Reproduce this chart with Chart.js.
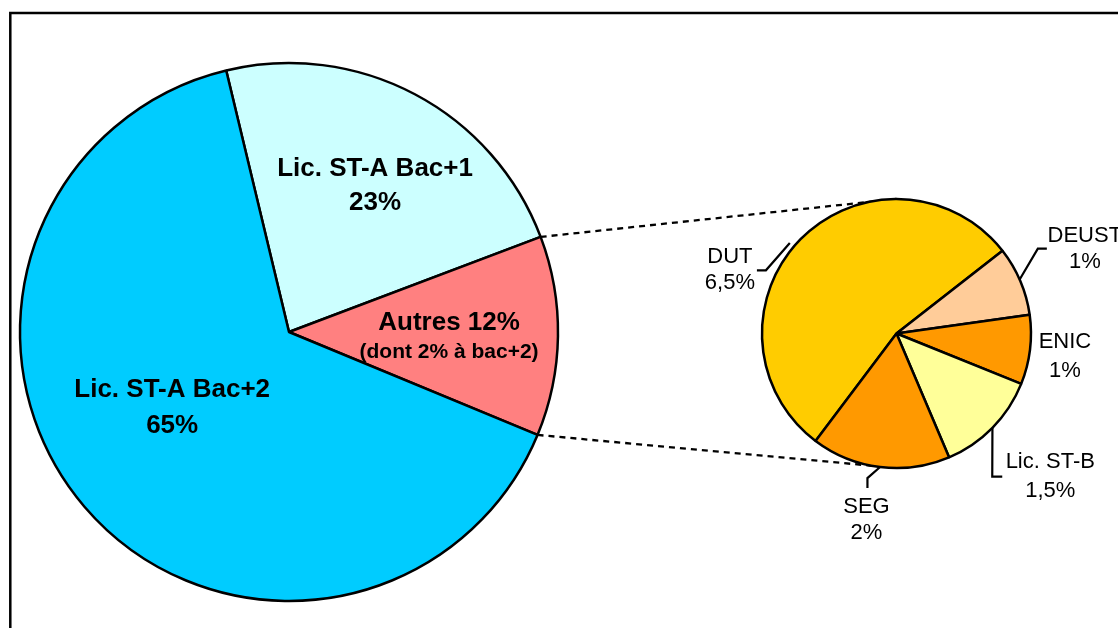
<!DOCTYPE html>
<html><head><meta charset="utf-8">
<script src="https://cdn.jsdelivr.net/npm/chart.js@4"></script>
<style>
html,body{margin:0;padding:0;background:#fff;overflow:hidden}
#wrap{position:relative;width:1118px;height:628px}
canvas{position:absolute;left:0;top:0}
#c2{pointer-events:none}
</style></head><body>
<div id="wrap"><canvas id="c1" width="1118" height="628"></canvas><canvas id="c2" width="1118" height="628"></canvas></div>
<script>
// ---- data ----
const mainCategories = ['Lic. ST-A Bac+1', 'Autres', 'Lic. ST-A Bac+2'];
const mainValues = [23, 12, 65];
const mainColors = ['#CCFFFF', '#FF8080', '#00CCFF'];
const mainTexts = [['Lic. ST-A Bac+1', '23%'], ['Autres 12%', '(dont 2% à bac+2)'], ['Lic. ST-A Bac+2', '65%']];

const subCategories = ['DUT', 'DEUST', 'ENIC', 'Lic. ST-B', 'SEG'];
const subValues = [6.5, 1, 1, 1.5, 2];
const subValueTexts = ['6,5%', '1%', '1%', '1,5%', '2%'];
const subColors = ['#FFCC00', '#FFCC99', '#FF9900', '#FFFF99', '#FF9900'];

// ---- label placement styles ----
const FONT = '"Liberation Sans", Arial, sans-serif';
const mainLabelStyle = [
  {rf: 0.662, shift: 1.0, sizes: [26, 26], gap: 34},
  {rf: 0.595, shift: -1.6, sizes: [26, 21], gap: 28},
  {rf: 0.497, shift: 11.4, sizes: [26, 26], gap: 36}
];
const subLabelStyle = [
  {rf: 1.344, shift: -21.65, gap: 26, leader: {a: -4.2, r: 1.04, elbow: [36, 7], end: [27, 7]}},
  {rf: 1.558, shift: -3.0, gap: 26, leader: {a: -0.7, r: 1.0, elbow: [-47, 7], end: [-38, 7]}},
  {rf: 1.257, shift: -2.2, gap: 29, leader: null},
  {rf: 1.517, shift: -3.4, gap: 29, leader: {a: 0, r: 1.0, elbow: [-58, 9], end: [-48, 9]}},
  {rf: 1.354, shift: 2.5, gap: 26, leader: {a: 0, r: 1.0, elbow: [1, -35], end: [1, -25]}}
];
const D2R = Math.PI / 180;

const framePlugin = {
  id: 'frame',
  beforeDraw(chart) {
    const ctx = chart.ctx;
    ctx.save();
    ctx.fillStyle = '#fff';
    ctx.fillRect(0, 0, chart.width, chart.height);
    ctx.strokeStyle = '#000';
    ctx.lineWidth = 2.5;
    ctx.strokeRect(10.3, 13, 1300, 800);
    ctx.restore();
  }
};

const mainLabelPlugin = {
  id: 'mainLabels',
  afterDatasetsDraw(chart) {
    const ctx = chart.ctx;
    const meta = chart.getDatasetMeta(0);
    ctx.save();
    ctx.fillStyle = '#000';
    ctx.textAlign = 'center';
    ctx.textBaseline = 'alphabetic';
    meta.data.forEach((arc, i) => {
      const st = mainLabelStyle[i];
      const mid = (arc.startAngle + arc.endAngle) / 2 + st.shift * D2R;
      const r = arc.outerRadius * st.rf;
      const x = arc.x + r * Math.cos(mid);
      const y = arc.y + r * Math.sin(mid);
      mainTexts[i].forEach((t, k) => {
        ctx.font = 'bold ' + st.sizes[k] + 'px ' + FONT;
        ctx.fillText(t, x, y + k * st.gap);
      });
    });
    ctx.restore();
  }
};

let mainChart = null;

const connectorPlugin = {
  id: 'connector',
  beforeDatasetsDraw(chart) {
    if (!mainChart) return;
    const arc = mainChart.getDatasetMeta(0).data[1];
    const sub = chart.getDatasetMeta(0).data[0];
    const R = arc.outerRadius;
    const p1 = [arc.x + R * Math.cos(arc.startAngle), arc.y + R * Math.sin(arc.startAngle)];
    const p2 = [arc.x + R * Math.cos(arc.endAngle), arc.y + R * Math.sin(arc.endAngle)];
    const ctx = chart.ctx;
    ctx.save();
    ctx.strokeStyle = '#000';
    ctx.lineWidth = 2.3;
    ctx.setLineDash([6, 5]);
    ctx.beginPath();
    ctx.moveTo(p1[0], p1[1]);
    ctx.lineTo(sub.x, sub.y - sub.outerRadius);
    ctx.moveTo(p2[0], p2[1]);
    ctx.lineTo(sub.x, sub.y + sub.outerRadius);
    ctx.stroke();
    ctx.restore();
  }
};

const subLabelPlugin = {
  id: 'subLabels',
  afterDatasetsDraw(chart) {
    const ctx = chart.ctx;
    const meta = chart.getDatasetMeta(0);
    ctx.save();
    ctx.fillStyle = '#000';
    ctx.strokeStyle = '#000';
    ctx.lineWidth = 2.2;
    ctx.textAlign = 'center';
    ctx.textBaseline = 'alphabetic';
    ctx.font = '22px ' + FONT;
    meta.data.forEach((arc, i) => {
      const st = subLabelStyle[i];
      const midRaw = (arc.startAngle + arc.endAngle) / 2;
      const mid = midRaw + st.shift * D2R;
      const r = arc.outerRadius * st.rf;
      const x = arc.x + r * Math.cos(mid);
      const y = arc.y + r * Math.sin(mid);
      ctx.fillText(subCategories[i], x, y);
      ctx.fillText(subValueTexts[i], x, y + st.gap);
      if (st.leader) {
        const L = st.leader;
        const a = midRaw + L.a * D2R;
        const sx = arc.x + arc.outerRadius * L.r * Math.cos(a);
        const sy = arc.y + arc.outerRadius * L.r * Math.sin(a);
        ctx.beginPath();
        ctx.moveTo(sx, sy);
        ctx.lineTo(x + L.elbow[0], y + L.elbow[1]);
        ctx.lineTo(x + L.end[0], y + L.end[1]);
        ctx.stroke();
      }
    });
    ctx.restore();
  }
};

mainChart = new Chart(document.getElementById('c1'), {
  type: 'pie',
  data: {
    labels: mainCategories,
    datasets: [{
      data: mainValues,
      backgroundColor: mainColors,
      borderColor: '#000',
      borderWidth: 2.5,
      radius: 269,
      rotation: -13.5
    }]
  },
  options: {
    responsive: false,
    animation: false,
    devicePixelRatio: 1,
    layout: {padding: {left: 20, right: 560, top: 63, bottom: 27}},
    plugins: {legend: {display: false}, tooltip: {enabled: false}}
  },
  plugins: [framePlugin, mainLabelPlugin]
});

new Chart(document.getElementById('c2'), {
  type: 'pie',
  data: {
    labels: subCategories,
    datasets: [{
      data: subValues,
      backgroundColor: subColors,
      borderColor: '#000',
      borderWidth: 2.5,
      radius: 134.5,
      rotation: 217
    }]
  },
  options: {
    responsive: false,
    animation: false,
    devicePixelRatio: 1,
    layout: {padding: {left: 762, right: 87, top: 199, bottom: 160}},
    plugins: {legend: {display: false}, tooltip: {enabled: false}}
  },
  plugins: [connectorPlugin, subLabelPlugin]
});
</script>
</body></html>
